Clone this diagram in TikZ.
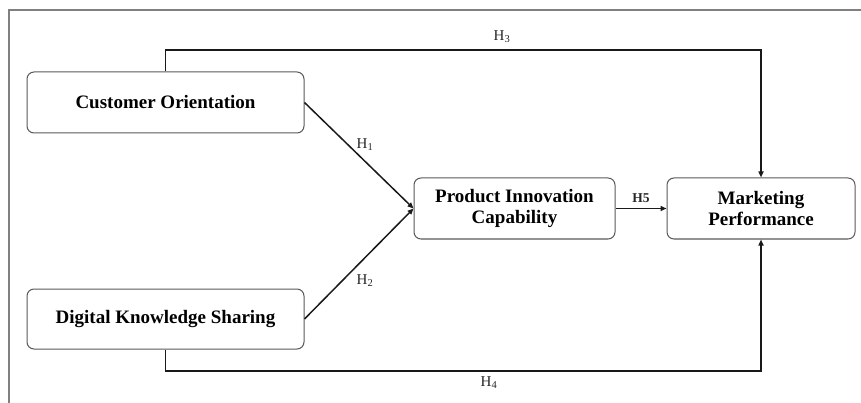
\documentclass[tikz,border=0pt]{standalone}
\usepackage{fontspec}
\setmainfont{Liberation Serif}
\usetikzlibrary{arrows.meta}
\begin{document}
\begin{tikzpicture}[x=1pt,y=-1pt,
  varbox/.style={draw=black!65, line width=1pt, rounded corners=7pt, fill=white,
    inner sep=0pt, align=center, font=\fontsize{19}{21}\selectfont\bfseries},
  link/.style={draw=black!90, line width=1.5pt, -{Triangle[length=6pt,width=5pt]}},
  hlab/.style={font=\fontsize{15}{17}\selectfont, text=black!85, inner sep=0pt},
  frameline/.style={draw=black!50, line width=1.3pt}
]
\useasboundingbox (0,0) rectangle (861,403);
\coordinate (fo) at (9,403);
\coordinate (fc) at (9,10);
\coordinate (fe) at (861,10);
\draw[frameline] (fo) -- (fc) -- (fe);

\node[varbox, minimum width=277pt, minimum height=61pt] (co) at (165.5,102.5) {Customer Orientation};
\node[varbox, minimum width=277pt, minimum height=60pt] (dks) at (165.5,319) {Digital Knowledge Sharing};
\node[varbox, minimum width=201pt, minimum height=61pt] (pic) at (514.5,208.5) {Product Innovation\\Capability};
\node[varbox, minimum width=188pt, minimum height=61pt] (mp) at (761,208.5) {Marketing\\Performance};

\coordinate (top) at (0,50);
\coordinate (bot) at (0,371);

\draw[link] (co.north) -- (co.north |- top) -| (mp.north);
\draw[link] (dks.south) -- (dks.south |- bot) -| (mp.south);
\draw[link] (co.east) -- (pic.west);
\draw[link] (dks.east) -- (pic.west);
\draw[link] (pic.east) -- (mp.west);

\node[hlab] (h3) at (502,37) {H\textsubscript{3}};
\node[hlab] (h4) at (489,383) {H\textsubscript{4}};
\node[hlab] (h1) at (365,145) {H\textsubscript{1}};
\node[hlab] (h2) at (365,281) {H\textsubscript{2}};
\node[hlab, font=\fontsize{13.5}{15}\selectfont\bfseries] (h5) at (641,198.5) {H5};
\end{tikzpicture}
\end{document}
